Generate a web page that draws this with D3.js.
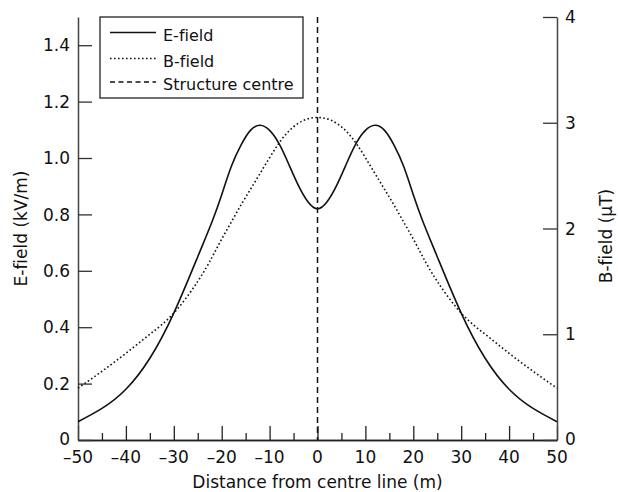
<!doctype html>
<html>
<head>
<meta charset="utf-8" />
<title>E-field and B-field</title>
<script src="https://cdn.jsdelivr.net/npm/d3@7"></script>
<style>
  html, body { margin: 0; padding: 0; background: #fff; }
  svg { display: block; }
  text { font-family: "DejaVu Sans", sans-serif; fill: #111; font-variant-ligatures: none; }
</style>
</head>
<body>
<div id="chart"></div>
<script>
// distance from centre line (m)
var distance = [-50, -45, -40, -35, -30, -25, -22, -20, -18, -16, -14, -12, -10, -8, -6, -4, -2, 0,
                2, 4, 6, 8, 10, 12, 14, 16, 18, 20, 22, 25, 30, 35, 40, 45, 50];
// E-field, kV/m (left axis)
var eField = [0.065, 0.112, 0.18, 0.29, 0.45, 0.65, 0.775, 0.87, 0.97, 1.045, 1.098, 1.116, 1.098, 1.05, 0.978, 0.903, 0.845, 0.82,
              0.845, 0.903, 0.978, 1.05, 1.098, 1.116, 1.098, 1.045, 0.97, 0.87, 0.775, 0.65, 0.45, 0.29, 0.18, 0.112, 0.065];
// B-field, uT (right axis)
var bField = [0.49, 0.65, 0.82, 1.0, 1.2, 1.5, 1.73, 1.9, 2.06, 2.22, 2.37, 2.52, 2.67, 2.81, 2.92, 2.995, 3.037, 3.05,
              3.037, 2.995, 2.92, 2.81, 2.67, 2.52, 2.37, 2.22, 2.06, 1.9, 1.73, 1.5, 1.2, 1.0, 0.82, 0.65, 0.49];

var xTicks = [-50, -40, -30, -20, -10, 0, 10, 20, 30, 40, 50];
var xMinor = [-45, -35, -25, -15, -5, 5, 15, 25, 35, 45];
var eTicks = [0, 0.2, 0.4, 0.6, 0.8, 1.0, 1.2, 1.4];
var bTicks = [0, 1, 2, 3, 4];
var legendNames = ["E-field", "B-field", "Structure centre"];

var W = 618, H = 492;
var mLeft = 78, mRight = 557, mTop = 17, mBottom = 440;

var svg = d3.select("#chart").append("svg").attr("width", W).attr("height", H);

var x = d3.scaleLinear().domain([-50, 50]).range([mLeft, mRight]);
var yE = d3.scaleLinear().domain([0, 1.5]).range([mBottom, mTop]);
var yB = d3.scaleLinear().domain([0, 4]).range([mBottom, mTop]);

var fs = 17;

// bottom axis
var gx = svg.append("g").attr("transform", "translate(0," + mBottom + ")");
gx.call(d3.axisTop(x).tickValues(xTicks).tickSize(14).tickFormat("").tickSizeOuter(0));
gx.append("g").call(d3.axisTop(x).tickValues(xMinor).tickSize(7).tickFormat("").tickSizeOuter(0));
gx.selectAll("path.domain").attr("stroke", "#222").attr("stroke-width", 1.5);
gx.selectAll(".tick line").attr("stroke", "#222").attr("stroke-width", 1.3);
gx.selectAll("text.xl").data(xTicks).enter().append("text")
  .attr("x", function(d) { return x(d); })
  .attr("y", 23)
  .attr("text-anchor", "middle")
  .attr("font-size", fs)
  .text(function(d) { return d < 0 ? "\u2013" + Math.abs(d) : d; });

// left axis
var gl = svg.append("g").attr("transform", "translate(" + mLeft + ",0)");
gl.call(d3.axisRight(yE).tickValues(eTicks).tickSize(14).tickFormat("").tickSizeOuter(0));
gl.selectAll("path.domain").attr("stroke", "#444").attr("stroke-width", 1.5);
gl.selectAll(".tick line").attr("stroke", "#333").attr("stroke-width", 1.3);
gl.selectAll("text.yl").data(eTicks).enter().append("text")
  .attr("x", -8)
  .attr("y", function(d) { return yE(d) - (d === 0 ? 1 : 0); })
  .attr("dy", "0.36em")
  .attr("text-anchor", "end")
  .attr("font-size", fs)
  .text(function(d) { return d === 0 ? "0" : d3.format(".1f")(d); });

// right axis
var gr = svg.append("g").attr("transform", "translate(" + mRight + ",0)");
gr.call(d3.axisLeft(yB).tickValues(bTicks).tickSize(14).tickFormat("").tickSizeOuter(0));
gr.selectAll("path.domain").attr("stroke", "#444").attr("stroke-width", 1.5);
gr.selectAll(".tick line").attr("stroke", "#333").attr("stroke-width", 1.3);
gr.selectAll("text.yr").data(bTicks).enter().append("text")
  .attr("x", 8)
  .attr("y", function(d) { return yB(d) - (d === 0 ? 1 : 0); })
  .attr("dy", "0.36em")
  .attr("text-anchor", "start")
  .attr("font-size", fs)
  .text(function(d) { return d; });

// axis titles
svg.append("text")
  .attr("x", (mLeft + mRight) / 2).attr("y", 488)
  .attr("text-anchor", "middle").attr("font-size", fs)
  .text("Distance from centre line (m)");
svg.append("text")
  .attr("transform", "translate(27," + (mTop + mBottom) / 2 + ") rotate(-90)")
  .attr("text-anchor", "middle").attr("font-size", fs)
  .text("E-field (kV/m)");
svg.append("text")
  .attr("transform", "translate(612,236) rotate(-90)")
  .attr("text-anchor", "middle").attr("font-size", fs)
  .text("B-field (\u03bcT)");

// structure centre line
svg.append("line")
  .attr("x1", x(0)).attr("x2", x(0))
  .attr("y1", yE(1.5)).attr("y2", mBottom)
  .attr("stroke", "#111").attr("stroke-width", 1.5)
  .attr("stroke-dasharray", "6,4");

// curves
var lineE = d3.line()
  .x(function(d, i) { return x(distance[i]); })
  .y(function(d) { return yE(d); })
  .curve(d3.curveNatural);
var lineB = d3.line()
  .x(function(d, i) { return x(distance[i]); })
  .y(function(d) { return yB(d); })
  .curve(d3.curveNatural);

svg.append("path").attr("d", lineB(bField))
  .attr("fill", "none").attr("stroke", "#111").attr("stroke-width", 1.6)
  .attr("stroke-dasharray", "1.6,2.4");
svg.append("path").attr("d", lineE(eField))
  .attr("fill", "none").attr("stroke", "#111").attr("stroke-width", 1.6);

// legend
var lg = svg.append("g");
lg.append("rect")
  .attr("x", 100).attr("y", 17).attr("width", 203).attr("height", 81)
  .attr("fill", "#fff").attr("stroke", "#222").attr("stroke-width", 1.3);
var dashes = [null, "1.6,2.4", "5,3.5"];
var rowY = [32.5, 58.5, 82];
legendNames.forEach(function(name, i) {
  lg.append("line")
    .attr("x1", 110).attr("x2", 156)
    .attr("y1", rowY[i]).attr("y2", rowY[i])
    .attr("stroke", "#111").attr("stroke-width", 1.5)
    .attr("stroke-dasharray", dashes[i]);
  lg.append("text")
    .attr("x", 163).attr("y", rowY[i] + 8)
    .attr("font-size", 16)
    .text(name);
});
</script>
</body>
</html>
